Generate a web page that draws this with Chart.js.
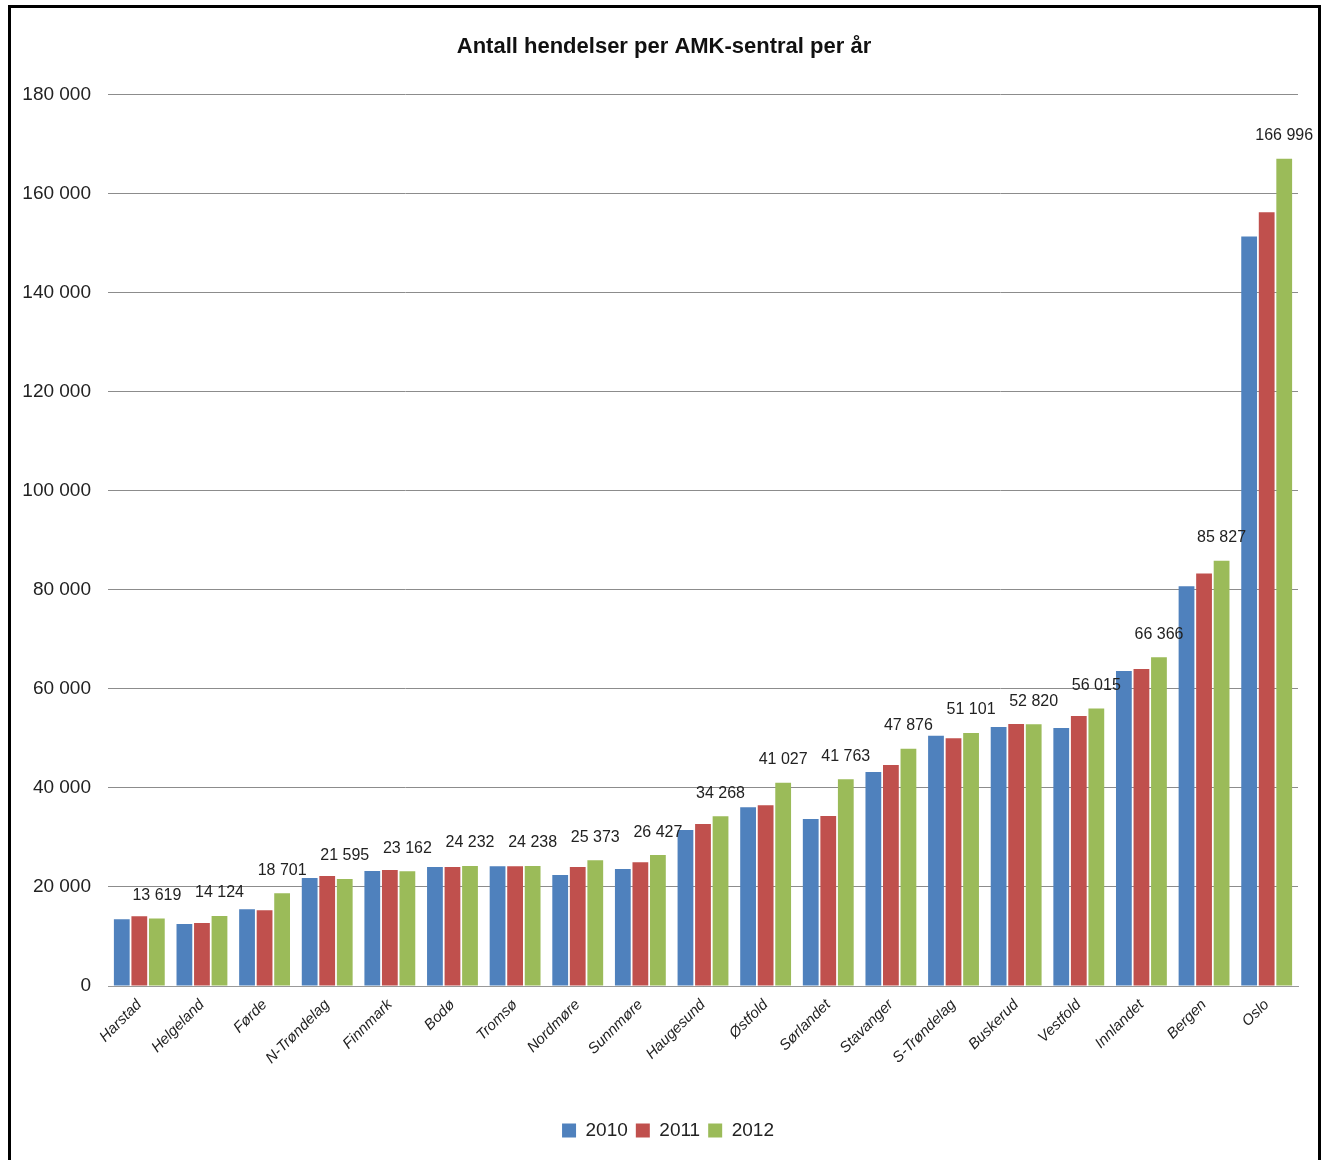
<!DOCTYPE html>
<html>
<head>
<meta charset="utf-8">
<script src="https://cdn.jsdelivr.net/npm/chart.js@4"></script>
<style>
  html, body { margin: 0; padding: 0; background: #fff; }
  #wrap { position: relative; width: 1321px; height: 1160px; }
  #frame { position: absolute; left: 8px; top: 5px; width: 1307px; height: 1170px; border: 3px solid #000; pointer-events: none; }
  canvas { position: absolute; left: 0; top: 0; }
</style>
</head>
<body>
<div id="wrap">
  <canvas id="c" width="1321" height="1160"></canvas>
  <div id="frame"></div>
</div>
<script>
const categories = ["Harstad","Helgeland","Førde","N-Trøndelag","Finnmark","Bodø","Tromsø","Nordmøre","Sunnmøre","Haugesund","Østfold","Sørlandet","Stavanger","S-Trøndelag","Buskerud","Vestfold","Innlandet","Bergen","Oslo"];
const values2010 = [13500,12500,15500,21800,23200,24000,24200,22400,23600,31500,36100,33700,43200,50500,52300,52100,63600,80700,151300];
const values2011 = [14100,12700,15300,22200,23400,24000,24200,24000,25000,32700,36500,34300,44600,50000,52900,54500,64000,83300,156200];
const values2012 = [13619,14124,18701,21595,23162,24232,24238,25373,26427,34268,41027,41763,47876,51101,52820,56015,66366,85827,166996];
const seriesNames = ["2010","2011","2012"];
const yTicks = [0,20000,40000,60000,80000,100000,120000,140000,160000,180000];

const FONT = "'Liberation Sans Narrow', 'Liberation Sans', sans-serif";
const fmt = v => String(v).replace(/\B(?=(\d{3})+(?!\d))/g, ' ');

const labelPlugin = {
  id: 'lastLabels',
  afterLayout(chart) {
    if (chart.legend) chart.legend.left += 38;
    if (chart.titleBlock) chart.titleBlock.left += 30;
  },
  afterDatasetsDraw(chart) {
    const ctx = chart.ctx;
    const meta = chart.getDatasetMeta(2);
    ctx.save();
    ctx.font = "16px " + FONT;
    ctx.fillStyle = '#222';
    ctx.textAlign = 'center';
    ctx.textBaseline = 'middle';
    meta.data.forEach((bar, i) => {
      ctx.fillText(fmt(values2012[i]), bar.x, bar.y - 23);
    });
    ctx.restore();
  }
};

new Chart(document.getElementById('c'), {
  type: 'bar',
  data: {
    labels: categories,
    datasets: [
      { label: seriesNames[0], data: values2010, backgroundColor: '#4F81BD' },
      { label: seriesNames[1], data: values2011, backgroundColor: '#C0504D' },
      { label: seriesNames[2], data: values2012, backgroundColor: '#9BBB59' }
    ]
  },
  options: {
    responsive: false,
    animation: false,
    devicePixelRatio: 1,
    datasets: { bar: { categoryPercentage: 0.84, barPercentage: 0.9 } },
    layout: { padding: { left: 0, right: 23, top: 0, bottom: 10 } },
    plugins: {
      title: {
        display: true,
        text: 'Antall hendelser per AMK-sentral per år',
        color: '#111',
        font: { family: FONT, size: 22, weight: 'bold', lineHeight: 1.2 },
        padding: { top: 34, bottom: 34 }
      },
      legend: {
        position: 'bottom',
        labels: {
          color: '#222',
          font: { family: FONT, size: 19 },
          boxWidth: 14, boxHeight: 14, padding: 8
        }
      },
      tooltip: { enabled: false }
    },
    scales: {
      x: {
        grid: { display: false, drawTicks: false },
        border: { display: true, color: '#999', width: 1 },
        ticks: {
          color: '#222',
          font: { family: FONT, size: 15, style: 'italic' },
          maxRotation: 45, minRotation: 45, padding: 10
        },
        afterFit(s) { s.height = 127; }
      },
      y: {
        min: 0, max: 180000,
        afterBuildTicks(s) { s.ticks = yTicks.map(v => ({ value: v })); },
        grid: { color: '#8c8c8c', lineWidth: 1, drawTicks: false },
        border: { display: false },
        ticks: {
          color: '#222',
          font: { family: FONT, size: 19 },
          padding: 17,
          callback: v => fmt(v)
        },
        afterFit(s) { s.width = 108; }
      }
    }
  },
  plugins: [labelPlugin]
});
</script>
</body>
</html>
